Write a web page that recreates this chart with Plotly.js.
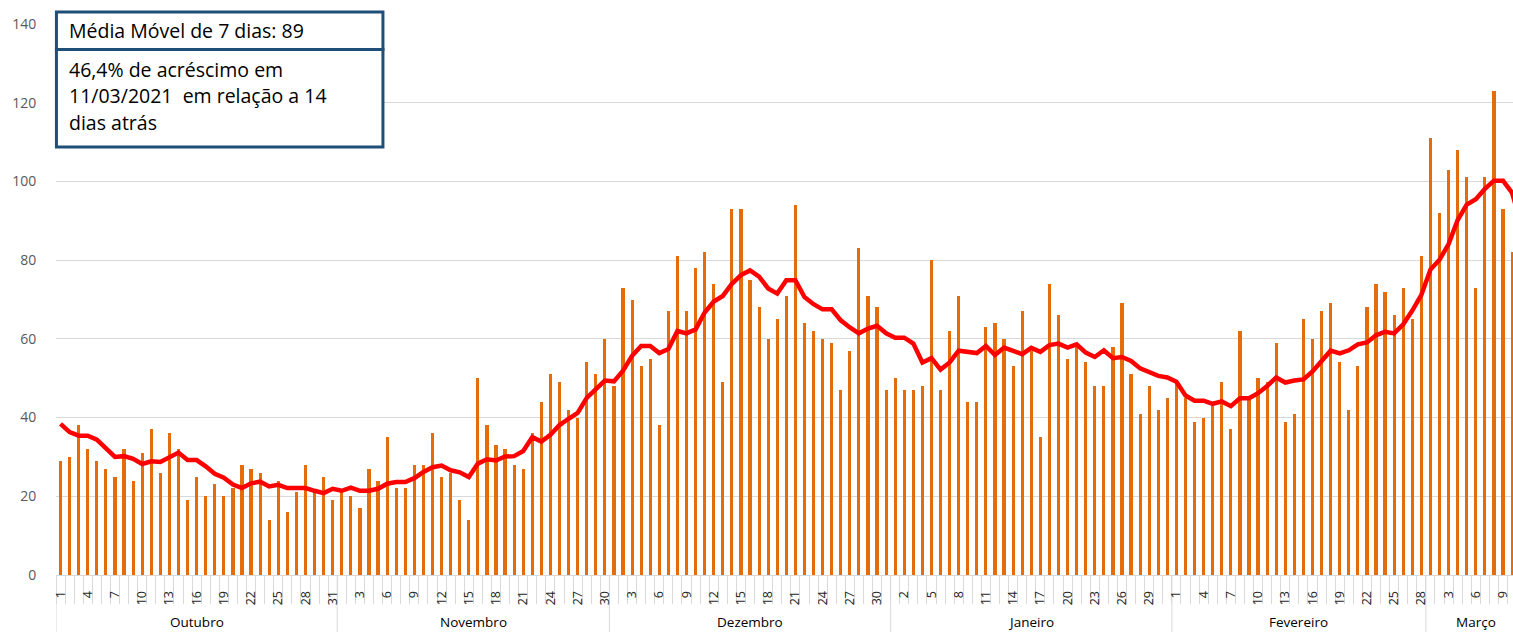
<!DOCTYPE html>
<html>
<head>
<meta charset="utf-8">
<script src="https://cdn.plot.ly/plotly-3.0.1.min.js"></script>
<style>
html,body{margin:0;padding:0;overflow:hidden;background:#fff;}
#chart{width:1513px;height:632px;}
</style>
</head>
<body>
<div id="chart"></div>
<script>
// Months shown on the grouped category axis and number of days in each
const months = ['Outubro','Novembro','Dezembro','Janeiro','Fevereiro','Março'];
const monthDays = [31, 30, 31, 31, 28, 11];

// Daily values (bars)
const casesOct = [29,30,38,32,29,27,25,32,24,31,37,26,36,32,19,25,20,23,20,22,28,27,26,14,24,16,21,28,21,25,19];
const casesNov = [21,20,17,27,24,35,22,22,28,28,36,25,26,19,14,50,38,33,32,28,27,36,44,51,49,42,40,54,51,60];
const casesDec = [48,73,70,53,55,38,67,81,67,78,82,74,49,93,93,75,68,60,65,71,94,64,62,60,59,47,57,83,71,68,47];
const casesJan = [50,47,47,48,80,47,62,71,44,44,63,64,60,53,67,57,35,74,66,55,58,54,48,48,58,69,51,41,48,42,45];
const casesFeb = [49,45,39,40,43,49,37,62,45,50,49,59,39,41,65,60,67,69,54,42,53,68,74,72,66,73,65,81];
const casesMar = [111,92,103,108,101,73,101,123,93,82,50];

// 7-day moving average (red line)
const maOct = [38.4,36.3,35.4,35.4,34.4,32.1,30.0,30.2,29.5,28.2,28.9,28.7,29.8,31.1,29.2,29.2,27.6,25.7,24.7,23.0,22.1,23.3,23.7,22.5,22.9,22.1,22.1,22.1,21.4,20.8,21.9];
const maNov = [21.4,22.2,21.4,21.4,21.9,23.2,23.6,23.6,24.6,26.2,27.4,27.8,26.6,26.1,24.9,28.3,29.4,29.1,30.1,30.2,31.5,35.0,33.9,35.6,38.1,39.7,41.2,45.0,47.3,49.4];
const maDec = [49.2,51.9,55.7,58.2,58.2,56.4,57.4,62.0,61.4,62.4,66.7,69.5,70.9,74.0,76.2,77.4,75.8,72.8,71.5,74.9,74.9,70.6,68.8,67.5,67.5,64.7,62.9,61.4,62.6,63.3,61.4];
const maJan = [60.3,60.3,58.8,54.0,55.1,52.2,54.0,57.0,56.7,56.4,58.2,55.9,57.8,56.8,56.1,57.7,56.7,58.4,58.8,57.8,58.6,56.5,55.4,57.1,55.1,55.4,54.4,52.5,51.7,50.6,50.2];
const maFeb = [49.1,45.6,44.3,44.3,43.5,44.1,42.9,44.9,44.9,46.2,48.0,50.2,48.9,49.4,49.7,51.7,54.2,57.0,56.3,57.1,58.6,59.1,60.9,61.8,61.4,63.7,67.2,71.2];
const maMar = [77.6,80.1,84.1,90.2,94.1,95.5,98.1,100.2,100.2,97.1,89];

// Text box
const boxTitle = 'Média Móvel de 7 dias: 89';
const boxLines = ['46,4% de acréscimo em', '11/03/2021  em relação a 14', 'dias atrás'];

const cases = [].concat(casesOct, casesNov, casesDec, casesJan, casesFeb, casesMar);
const ma = [].concat(maOct, maNov, maDec, maJan, maFeb, maMar);

// category positions and day labels
const xs = [], dayLabels = [];
monthDays.forEach(n => { for (let d = 1; d <= n; d++) { xs.push(xs.length); dayLabels.push(String(d)); } });
const tickvals = xs.filter(i => i % 3 === 0);
const ticktext = tickvals.map(i => dayLabels[i]);

const FONT = '"Open Sans", Lato, sans-serif';
const GRID = '#d9d9d9';

// month separators and labels
const shapes = [];
const annotations = [];
let start = 0;
shapes.push({type:'line', xref:'x', yref:'paper', x0:-0.5, x1:-0.5, y0:0, y1:-0.12, line:{color:GRID, width:1}, layer:'below'});
months.forEach((m, k) => {
  const end = start + monthDays[k];
  shapes.push({type:'line', xref:'x', yref:'paper', x0:end-0.5, x1:end-0.5, y0:0, y1:-0.12, line:{color:GRID, width:1}, layer:'below'});
  annotations.push({xref:'x', yref:'paper', x:(start + end - 1)/2, y:-0.0855, text:m, showarrow:false,
    xanchor:'center', yanchor:'middle', font:{family:FONT, size:13.5, color:'#000'}});
  start = end;
});

// text box (two stacked frames)
const BOX = '#1F4E79';
shapes.push({type:'rect', xref:'paper', yref:'paper', x0:0.0003, x1:0.2244, y0:0.7768, y1:0.9537,
  line:{color:BOX, width:3}, fillcolor:'#fff', layer:'above'});
shapes.push({type:'rect', xref:'paper', yref:'paper', x0:0.0003, x1:0.2244, y0:0.9537, y1:1.0218,
  line:{color:BOX, width:3}, fillcolor:'#fff', layer:'above'});
const TX = 0.00755;
annotations.push({xref:'paper', yref:'paper', x:TX, y:0.98911, text:boxTitle, showarrow:false,
  xanchor:'left', yanchor:'middle', align:'left', font:{family:FONT, size:19.5, color:'#000'}});
const lineY = [0.91652, 0.86933, 0.82214];
boxLines.forEach((t, i) => {
  annotations.push({xref:'paper', yref:'paper', x:TX, y:lineY[i], text:t, showarrow:false,
    xanchor:'left', yanchor:'middle', align:'left', font:{family:FONT, size:19.5, color:'#000'}});
});

const traces = [
  {type:'bar', x:xs, y:cases, width:0.35, marker:{color:'#E46C0A', line:{width:0}}, hoverinfo:'y', name:'Casos'},
  {type:'scatter', mode:'lines', x:xs, y:ma, line:{color:'#FF0000', width:4.5}, hoverinfo:'y', name:'Média móvel'}
];

const layout = {
  width:1513, height:632,
  margin:{l:56, r:0, t:24, b:57, pad:0},
  paper_bgcolor:'#fff', plot_bgcolor:'#fff',
  showlegend:false,
  font:{family:FONT},
  xaxis:{
    range:[-0.5, 160.1], tickmode:'array', tickvals:tickvals, ticktext:ticktext,
    tickangle:-90, ticks:'', showgrid:false, zeroline:false,
    showline:true, linecolor:GRID, linewidth:1,
    tickfont:{family:FONT, size:12.5, color:'#262626'},
    ticklabelstandoff:10,
    minor:{tick0:-0.5, dtick:1, ticks:'outside', ticklen:28, tickcolor:GRID, tickwidth:1, showgrid:false}
  },
  yaxis:{
    range:[0,140], tickmode:'array', tickvals:[0,20,40,60,80,100,120,140],
    showgrid:true, gridcolor:GRID, gridwidth:1, zeroline:false, showline:false,
    ticks:'outside', ticklen:16, tickcolor:'rgba(0,0,0,0)',
    tickfont:{family:FONT, size:14, color:'#595959'}
  },
  bargap:0,
  shapes:shapes,
  annotations:annotations
};

Plotly.newPlot('chart', traces, layout, {displayModeBar:false, staticPlot:true});
</script>
</body>
</html>
